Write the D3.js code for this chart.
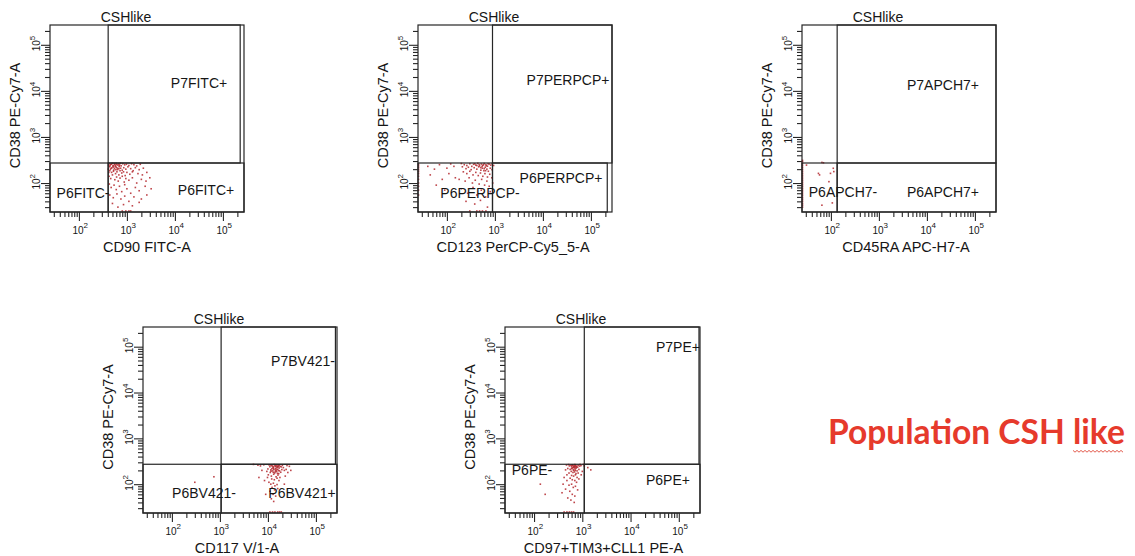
<!DOCTYPE html>
<html><head><meta charset="utf-8">
<script src="https://cdn.jsdelivr.net/npm/d3@7"></script>
<style>
body{margin:0;background:#fff}
svg text{font-family:"Liberation Sans",Arial,sans-serif;fill:#161616}
</style>
</head><body>
<svg id="chart" width="1135" height="556"></svg>
<script>
// ---------------- DATA ----------------
const panelTitles = ["CSHlike","CSHlike","CSHlike","CSHlike","CSHlike"];
const xAxisLabels = ["CD90 FITC-A","CD123 PerCP-Cy5_5-A","CD45RA APC-H7-A","CD117 V/1-A","CD97+TIM3+CLL1 PE-A"];
const yAxisLabel = "CD38 PE-Cy7-A";
const tickExponents = [2,3,4,5];
const axisXRange = [25, 275000];
const axisYRange = [23.5, 269000];

// gate thresholds (fluorescence intensity)
const gateVertical = [407, 891, 135, 1060, 1100];
const gateHorizontal = [272, 272, 272, 272, 272];
const upperGateXMax = [229000, 275000, 275000, 255000, 262000];
const lowerGateXMax = [275000, 219000, 275000, 275000, 275000];

// gate names: [upper-right, lower-left, lower-right]
const gateNames = [
  ["P7FITC+","P6FITC-","P6FITC+"],
  ["P7PERPCP+","P6PERPCP-","P6PERPCP+"],
  ["P7APCH7+","P6APCH7-","P6APCH7+"],
  ["P7BV421-","P6BV421-","P6BV421+"],
  ["P7PE+","P6PE-","P6PE+"]
];

const eventsFITC = [
 [420,265],[450,250],[480,262],[520,240],[560,255],[600,268],[650,245],[700,258],[760,236],[820,262],[900,248],[980,255],[1100,240],[1250,262],[1400,250],[1600,235],[1900,255],
 [430,225],[470,210],[510,232],[550,205],[600,220],[640,195],[690,228],[740,210],[800,190],[860,215],[950,200],[1050,225],[1200,205],[1350,185],[1500,215],[1800,195],[2200,210],
 [440,185],[480,170],[530,190],[580,160],[620,175],[680,150],[720,185],[780,165],[850,175],[920,145],[1000,170],[1150,155],[1300,175],[1700,160],[2100,150],[2600,170],
 [425,140],[460,125],[500,150],[560,118],[610,135],[660,110],[720,128],[800,140],[880,105],[950,125],[1100,115],[1300,130],[1600,100],[2000,120],[2500,110],[3000,130],
 [430,95],[470,80],[540,90],[600,72],[700,85],[780,65],[900,92],[1000,75],[1200,60],[1500,80],[1800,68],[2400,85],[3200,75],
 [440,55],[520,48],[620,58],[750,45],[900,52],[1100,40],[1400,50],[2000,45],[2600,55],
 [500,36],[650,30],[850,34],[1300,32],[1800,38],
 [800,24],[950,24],[1100,24],[1200,24],
 [415,245],[445,235],[470,255],[500,268],[530,222],[570,240],[610,250],[660,262],[455,200],[490,215],[525,180],[590,195],[630,210],[700,240],[735,268],[410,200],[420,170],[545,265],[580,228],[680,205]
];
const eventsPERCP = [
 [25,255],[25,235],[25,215],[25,195],[25,178],[25,160],[25,140],[25,120],[25,100],[25,85],[25,70],[25,55],
 [40,230],[55,200],[70,250],[45,150],[80,120],[60,90],[100,210],[120,260],[110,160],[140,230],[150,130],[90,70],
 [200,265],[230,250],[260,240],[300,262],[330,230],[360,255],[400,245],[440,268],[480,235],[520,258],[560,242],[600,265],[650,250],[700,232],[760,258],[820,245],[880,262],[940,240],
 [210,225],[250,205],[280,220],[320,195],[370,215],[420,200],[460,225],[510,190],[550,210],[590,185],[630,220],[680,200],[730,180],[800,210],[870,195],
 [220,175],[260,160],[300,180],[350,150],[400,170],[450,145],[500,165],[560,140],[620,160],[700,135],[780,155],[860,130],
 [180,120],[240,110],[290,130],[340,100],[390,115],[470,95],[530,120],[610,90],[680,110],[760,85],[900,100],
 [200,75],[270,60],[350,80],[420,55],[520,70],[640,50],[800,65],
 [250,40],[380,35],[500,42],[700,30],
 [300,24],[420,24],[480,24],[550,24],[650,24],
 [380,262],[420,240],[540,230],[600,205],[660,238],[720,262],[470,250],[510,215],[580,250],[640,185]
];
const eventsAPCH7 = [
 [25,30],[25,33],[25,36],[25,40],[25,44],[25,48],[25,53],[25,58],[25,64],[25,70],[25,77],[25,85],[25,93],[25,102],[25,112],[25,123],[25,135],[25,148],[25,163],[25,180],[25,198],[25,218],[25,240],[25,264],[25,290],[25,310],
 [31,245],[65,280],[70,275],[55,162],[58,150],[112,209],[115,177],[98,162],[91,107],[107,37],[65,33],[91,60]
];
const eventsBV421 = [
 [10500,265],[12000,255],[13500,268],[15000,250],[16500,262],[18000,245],[20000,258],[11000,240],[12800,230],[14200,245],[15800,235],[17200,225],[19000,238],[21000,230],
 [10000,215],[11500,205],[13000,220],[14500,200],[16000,212],[17500,195],[19500,208],[22000,200],[9500,190],[11200,180],[12500,195],[13800,175],[15200,188],[16800,170],[18500,182],
 [10200,160],[11800,150],[13200,165],[14800,145],[16200,158],[17800,140],[9800,140],[12000,130],[13600,125],[15500,135],[17000,120],
 [10500,110],[11500,100],[13000,105],[14000,92],[15500,98],[12200,85],[13800,75],[11000,70],[16000,80],[12800,60],[14500,55],[11800,48],[13200,42],
 [11000,24],[12500,24],[14000,24],[16000,24],[17500,24],[19000,24],
 [5000,270],[6200,260],[7000,250],[8200,265],[25000,255],[28000,245],[24000,210],[26000,180],[7500,200],[8500,120],[6500,140],[30000,200],[23000,150],[9000,60],[22000,100],
 [300,110],[750,145],
 [11200,262],[12400,248],[13100,238],[14100,258],[14900,226],[15600,248],[16400,240],[17100,256],[12100,218],[13300,208],[14300,216],[15100,204],[16600,198],[11600,192],[12900,182],[14200,186],[15800,172]
];
const eventsPE = [
 [520,268],[580,258],[630,265],[680,250],[720,262],[760,245],[820,258],[880,248],[600,240],[650,230],[700,242],[750,225],[800,235],[540,250],[470,262],[900,270],[940,255],
 [500,220],[560,210],[620,225],[670,200],[710,215],[780,195],[850,210],[450,205],[590,190],[640,180],[690,185],[740,170],[820,175],[530,175],[480,160],[600,155],[660,150],[720,160],[780,140],[560,135],[620,125],[700,120],[760,110],[850,130],[480,120],[420,140],[400,100],[530,95],[600,100],[650,85],[720,90],[800,75],[550,70],[450,78],[620,60],[700,55],[500,50],[580,45],[680,40],[380,65],
 [420,24],[480,24],[540,24],[600,24],[660,24],
 [1100,250],[1300,230],[1050,270],[1500,205],[950,160],[1000,190],
 [135,100],[170,60],
 [640,255],[700,268],[730,250],[660,240],[610,260],[690,228],[740,235],[600,218],[650,205],[720,200]
];
const panelEvents = [eventsFITC, eventsPERCP, eventsAPCH7, eventsBV421, eventsPE];

const sideTitle = "Population CSH like";

// ---------------- LAYOUT ----------------
const boxes = [
  {x:50, y:25, w:194, h:187},
  {x:418, y:25, w:194, h:187},
  {x:802, y:25, w:194, h:187},
  {x:143, y:327, w:194, h:186},
  {x:505, y:327, w:195, h:186}
];
// label centres relative to box top-left: [upper-right, lower-left, lower-right]
const labelOffsets = [
  [[149,58],[33,168],[156,165]],
  [[150,55],[62,168],[143,153]],
  [[141,60],[41,167],[141,167]],
  [[160,34],[61,166],[159,166]],
  [[173,20],[27,143],[163,153]]
];
const xLabelShift = [0,-2,7,-3,1];

const svg = d3.select("#chart");
const ink = "#262626";

panelTitles.forEach((title, i) => {
  const b = boxes[i];
  const g = svg.append("g");
  const x = d3.scaleLog().domain(axisXRange).range([b.x, b.x + b.w]);
  const y = d3.scaleLog().domain(axisYRange).range([b.y + b.h, b.y]);

  const majors = tickExponents.map(e => Math.pow(10, e));
  const minorsFor = dom => {
    const out = [];
    for (let e = 1; e <= 5; e++) for (let k = 2; k <= 9; k++) {
      const v = k * Math.pow(10, e);
      if (v >= dom[0] && v <= dom[1]) out.push(v);
    }
    return out;
  };

  // axes (ticks only)
  const strip = s => s.select(".domain").remove();
  g.append("g").attr("transform", `translate(0,${b.y + b.h})`)
    .call(d3.axisBottom(x).tickValues(minorsFor(axisXRange)).tickSize(5).tickFormat(""))
    .call(strip);
  g.append("g").attr("transform", `translate(0,${b.y + b.h})`)
    .call(d3.axisBottom(x).tickValues(majors).tickSize(9).tickFormat(""))
    .call(strip);
  g.append("g").attr("transform", `translate(${b.x},0)`)
    .call(d3.axisLeft(y).tickValues(minorsFor(axisYRange)).tickSize(5).tickFormat(""))
    .call(strip);
  g.append("g").attr("transform", `translate(${b.x},0)`)
    .call(d3.axisLeft(y).tickValues(majors).tickSize(9).tickFormat(""))
    .call(strip);
  g.selectAll(".tick line").attr("stroke", ink).attr("stroke-width", 1.1);

  // x tick labels
  tickExponents.forEach(e => {
    const t = g.append("text").attr("x", x(Math.pow(10, e)) - 6.5).attr("y", b.y + b.h + 21.5)
      .attr("font-size", 10);
    t.append("tspan").text("10");
    t.append("tspan").attr("dy", -5.5).attr("font-size", 8).text(e);
  });
  // y tick labels (rotated)
  tickExponents.forEach(e => {
    const t = g.append("text")
      .attr("transform", `translate(${b.x - 10},${y(Math.pow(10, e)) + 6.5}) rotate(-90)`)
      .attr("font-size", 10);
    t.append("tspan").text("10");
    t.append("tspan").attr("dy", -5.5).attr("font-size", 8).text(e);
  });

  // events
  g.append("g").selectAll("rect").data(panelEvents[i]).join("rect")
    .attr("x", d => Math.min(Math.max(x(d[0]), b.x + 0.5), b.x + b.w - 2) - 0.8)
    .attr("y", d => Math.min(Math.max(y(d[1]), b.y + 0.5), b.y + b.h - 1) - 0.8)
    .attr("width", 1.6).attr("height", 1.6)
    .attr("fill", "#b3262c").attr("opacity", 0.85);

  // plot frame
  g.append("rect").attr("x", b.x).attr("y", b.y).attr("width", b.w).attr("height", b.h)
    .attr("fill", "none").attr("stroke", ink).attr("stroke-width", 1.2);

  // gates
  const vx = x(gateVertical[i]), hy = y(gateHorizontal[i]);
  const gates = [
    [vx, y(axisYRange[1]), x(upperGateXMax[i]), hy],
    [x(axisXRange[0]), hy, vx, y(axisYRange[0])],
    [vx, hy, x(lowerGateXMax[i]), y(axisYRange[0])]
  ];
  g.append("g").selectAll("rect").data(gates).join("rect")
    .attr("x", d => d[0]).attr("y", d => d[1])
    .attr("width", d => d[2] - d[0]).attr("height", d => d[3] - d[1])
    .attr("fill", "none").attr("stroke", ink).attr("stroke-width", 1.2);

  // gate names
  gateNames[i].forEach((name, j) => {
    const o = labelOffsets[i][j];
    g.append("text").attr("x", b.x + o[0]).attr("y", b.y + o[1] + 5)
      .attr("text-anchor", "middle").attr("font-size", 14).text(name);
  });

  // title
  g.append("text").attr("x", b.x + 76).attr("y", b.y - 3)
    .attr("text-anchor", "middle").attr("font-size", 14).text(title);
  // x-axis label
  g.append("text").attr("x", b.x + b.w / 2 + xLabelShift[i]).attr("y", b.y + b.h + 40)
    .attr("text-anchor", "middle").attr("font-size", 14.5).text(xAxisLabels[i]);
  // y-axis label
  g.append("text")
    .attr("transform", `translate(${b.x - 30},${b.y + b.h / 2 - 3}) rotate(-90)`)
    .attr("text-anchor", "middle").attr("font-size", 14.5).text(yAxisLabel);
});

// side title
const st = svg.append("text").attr("x", 828).attr("y", 444)
  .style("font-family", "Lato, 'Open Sans', sans-serif").style("font-weight", "bold")
  .style("fill", "#e63a2c").attr("font-size", 30).text(sideTitle);
const w = st.node().getComputedTextLength();
st.attr("font-size", 30 * 297 / w);
// spell-check squiggle under the last word
const sq = d3.range(1073, 1125, 2).map((px, k) => [px, 451 + (k % 2 ? 1.2 : -0.6)]);
svg.append("path").attr("d", d3.line()(sq)).attr("fill", "none")
  .attr("stroke", "#e04a3a").attr("stroke-width", 0.9);
</script>
</body></html>
